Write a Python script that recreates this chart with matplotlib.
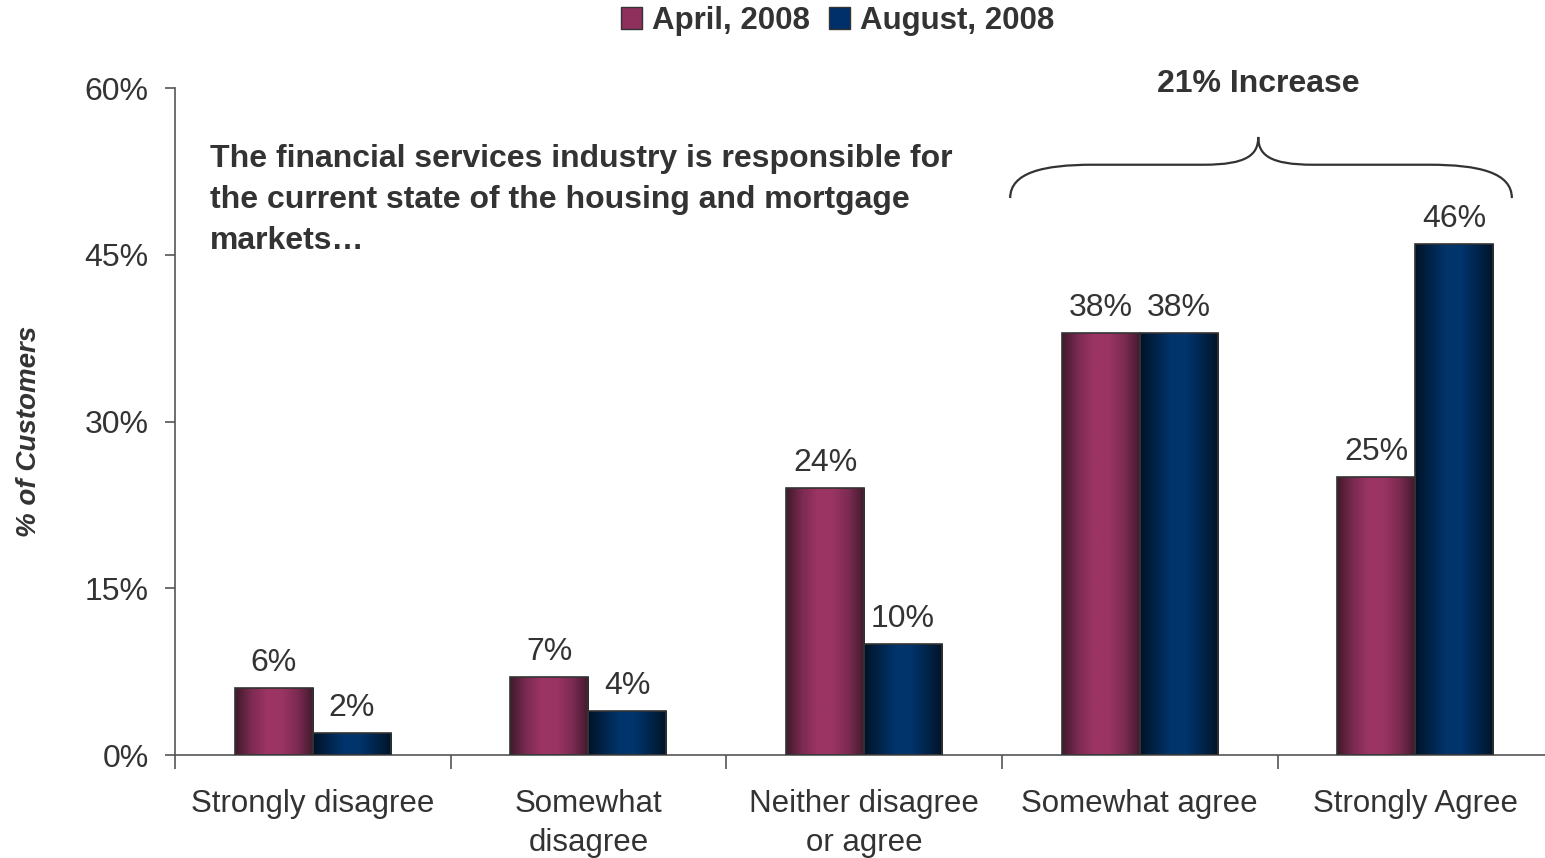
import matplotlib.pyplot as plt
import numpy as np
from matplotlib.colors import LinearSegmentedColormap
from matplotlib.patches import Patch, PathPatch
from matplotlib.path import Path

plt.rcParams['font.family'] = ['Liberation Sans', 'DejaVu Sans']

categories = ['Strongly disagree', 'Somewhat\ndisagree', 'Neither disagree\nor agree',
              'Somewhat agree', 'Strongly Agree']
april = [6, 7, 24, 38, 25]
august = [2, 4, 10, 38, 46]
series_names = ['April, 2008', 'August, 2008']
y_ticks = [0, 15, 30, 45, 60]

text_color = '#333333'
fs = 23
april_cmap = LinearSegmentedColormap.from_list(
    'april', ['#3f1a2c', '#7a2a50', '#9c3464', '#9a3462', '#7a2a50', '#3f1a2c'])
august_cmap = LinearSegmentedColormap.from_list(
    'august', ['#001327', '#00244a', '#00356c', '#00346a', '#00244a', '#001327'])

fig = plt.figure(figsize=(15.45, 8.58), dpi=100)
ax = fig.add_axes([0.1133, 0.12, 0.892, 0.7774])

x = np.arange(len(categories))
w = 0.283


def shaded_bars(xpos, values, cmap):
    bars = ax.bar(xpos, values, w, facecolor='none', edgecolor='#333333',
                  linewidth=1.2, zorder=3)
    grad = np.linspace(0, 1, 256).reshape(1, -1)
    for b in bars:
        im = ax.imshow(grad, cmap=cmap, aspect='auto', zorder=2,
                       extent=[b.get_x(), b.get_x() + b.get_width(), 0, b.get_height()])
        im.set_clip_path(b)
    for b, v in zip(bars, values):
        ax.text(b.get_x() + b.get_width() / 2, v + 0.9, f'{v}%', ha='center',
                va='bottom', fontsize=fs, color=text_color)
    return bars


shaded_bars(x - w / 2, april, april_cmap)
shaded_bars(x + w / 2, august, august_cmap)

ax.set_xlim(-0.5, len(categories) - 0.5)
ax.set_ylim(0, 60)
ax.set_yticks(y_ticks)
ax.set_yticklabels([f'{t}%' for t in y_ticks])
ax.set_xticks(x)
ax.set_xticklabels(categories, linespacing=1.38)
ax.set_xticks(np.arange(len(categories)) - 0.5, minor=True)
ax.tick_params(axis='x', which='major', length=0, pad=24.5, labelsize=22.5, colors=text_color)
ax.tick_params(axis='x', which='minor', length=10, width=1.2, color='#555555')
ax.tick_params(axis='y', length=7, width=1.2, color='#555555', labelsize=fs,
               labelcolor=text_color, pad=12)
for s in ['top', 'right']:
    ax.spines[s].set_visible(False)
for s in ['left', 'bottom']:
    ax.spines[s].set_color('#555555')
    ax.spines[s].set_linewidth(1.2)
ax.spines['bottom'].set_clip_on(False)

fig.text(0.0185, 0.497, '% of Customers', rotation=90, ha='center', va='center',
         fontsize=20, fontweight='bold', fontstyle='italic', color=text_color)

ax.text(-0.373, 55.0, 'The financial services industry is responsible for\n'
        'the current state of the housing and mortgage\nmarkets\u2026',
        ha='left', va='top', fontsize=fs, fontweight='bold', color=text_color,
        linespacing=1.48)

# brace over the two agree groups
xl, xm, xr = 2.53, 3.43, 4.35
y0, y1, y2 = 50.1, 53.1, 55.6
verts = [(xl, y0), (xl, 52.4), (xl + 0.12, y1), (xl + 0.3, y1),
         (xm - 0.2, y1),
         (xm - 0.04, y1), (xm, 54.0), (xm, y2),
         (xm, 54.0), (xm + 0.04, y1), (xm + 0.2, y1),
         (xr - 0.3, y1),
         (xr - 0.12, y1), (xr, 52.4), (xr, y0)]
codes = [Path.MOVETO, Path.CURVE4, Path.CURVE4, Path.CURVE4,
         Path.LINETO,
         Path.CURVE4, Path.CURVE4, Path.CURVE4,
         Path.CURVE4, Path.CURVE4, Path.CURVE4,
         Path.LINETO,
         Path.CURVE4, Path.CURVE4, Path.CURVE4]
ax.add_patch(PathPatch(Path(verts, codes), facecolor='none', edgecolor='#333333',
                       linewidth=1.6, clip_on=False))
ax.text(xm, 60.4, '21% Increase', ha='center', va='center', fontsize=fs,
        fontweight='bold', color=text_color, clip_on=False)

handles = [Patch(facecolor='#8e305b', edgecolor='#333333', label=series_names[0]),
           Patch(facecolor='#00306a', edgecolor='#333333', label=series_names[1])]
leg = fig.legend(handles=handles, loc='center', bbox_to_anchor=(0.542, 0.976), ncol=2,
                 frameon=False, handlelength=0.7, handleheight=0.7, handletextpad=0.3,
                 columnspacing=0.6, prop={'size': 22.5, 'weight': 'bold'})
for t in leg.get_texts():
    t.set_color(text_color)

fig.savefig('out.png', dpi=100)
